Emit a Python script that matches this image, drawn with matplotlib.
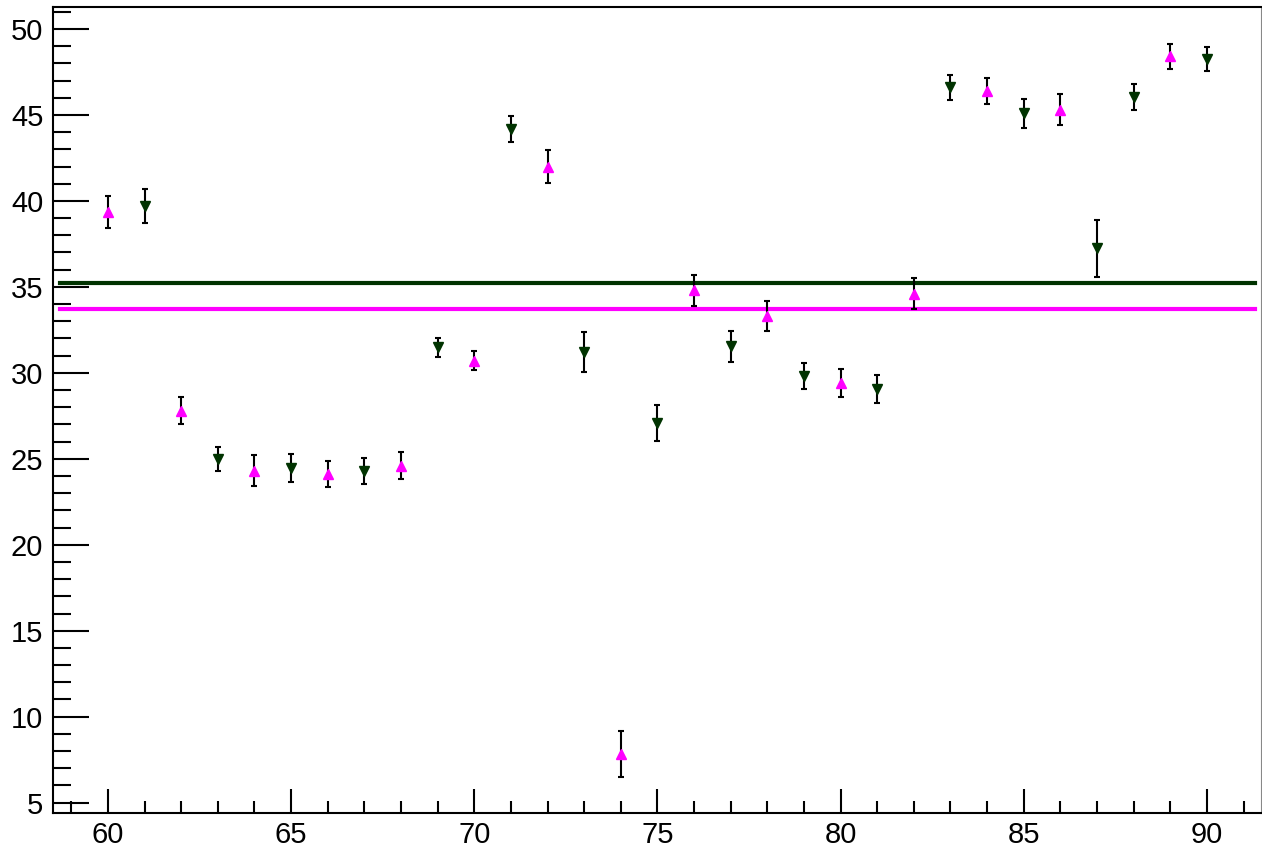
import matplotlib
matplotlib.use("Agg")
import matplotlib.pyplot as plt
from matplotlib.ticker import MultipleLocator

plt.rcParams['font.family'] = ['Liberation Sans', 'DejaVu Sans']

# magenta points (triangle up)
x_mag = [60, 62, 64, 66, 68, 70, 72, 74, 76, 78, 80, 82, 84, 86, 89]
y_mag = [39.35, 27.8, 24.3, 24.1, 24.6, 30.7, 42.0, 7.82, 34.8, 33.3, 29.4, 34.6, 46.4, 45.3, 48.4]
e_mag = [0.93, 0.8, 0.9, 0.75, 0.8, 0.55, 0.95, 1.35, 0.9, 0.85, 0.8, 0.9, 0.75, 0.9, 0.7]

# dark green points (triangle down)
x_grn = [61, 63, 65, 67, 69, 71, 73, 75, 77, 79, 81, 83, 85, 87, 88, 90]
y_grn = [39.7, 25.0, 24.45, 24.3, 31.5, 44.2, 31.2, 27.1, 31.55, 29.8, 29.05, 46.6, 45.1, 37.25, 46.05, 48.25]
e_grn = [1.0, 0.7, 0.8, 0.75, 0.55, 0.75, 1.15, 1.05, 0.9, 0.75, 0.8, 0.75, 0.85, 1.65, 0.75, 0.7]

# horizontal mean lines
line_x = [58.7, 91.3]
mean_grn = 35.22
mean_mag = 33.71

MAG = '#ff00ff'
GRN = '#003300'

fig = plt.figure(figsize=(12.62, 8.51), dpi=100)
ax = fig.add_axes([0.042, 0.0447, 0.957, 0.9471])

ax.plot(line_x, [mean_grn, mean_grn], color=GRN, lw=3, zorder=1)
ax.plot(line_x, [mean_mag, mean_mag], color=MAG, lw=3, zorder=1)

ax.errorbar(x_mag, y_mag, yerr=e_mag, fmt='^', color=MAG, ecolor='black',
            elinewidth=1.5, capsize=2.5, capthick=1.5, markersize=7, zorder=3)
ax.errorbar(x_grn, y_grn, yerr=e_grn, fmt='v', color=GRN, ecolor='black',
            elinewidth=1.5, capsize=2.5, capthick=1.5, markersize=7, zorder=3)

ax.set_xlim(58.5, 91.47)
ax.set_ylim(4.4, 51.28)

ax.xaxis.set_major_locator(MultipleLocator(5))
ax.xaxis.set_minor_locator(MultipleLocator(1))
ax.yaxis.set_major_locator(MultipleLocator(5))
ax.yaxis.set_minor_locator(MultipleLocator(1))

ax.tick_params(axis='both', which='both', direction='in', top=False, right=False,
               labelsize=21, width=1.5)
ax.tick_params(axis='y', which='major', length=26, pad=7)
ax.tick_params(axis='y', which='minor', length=13)
ax.tick_params(axis='x', which='major', length=17, pad=6)
ax.tick_params(axis='x', which='minor', length=9)

for s in ax.spines.values():
    s.set_linewidth(1.5)
ax.spines['right'].set_linewidth(0.8)
ax.spines['right'].set_color('#888888')

fig.savefig('out.png', dpi=100)
